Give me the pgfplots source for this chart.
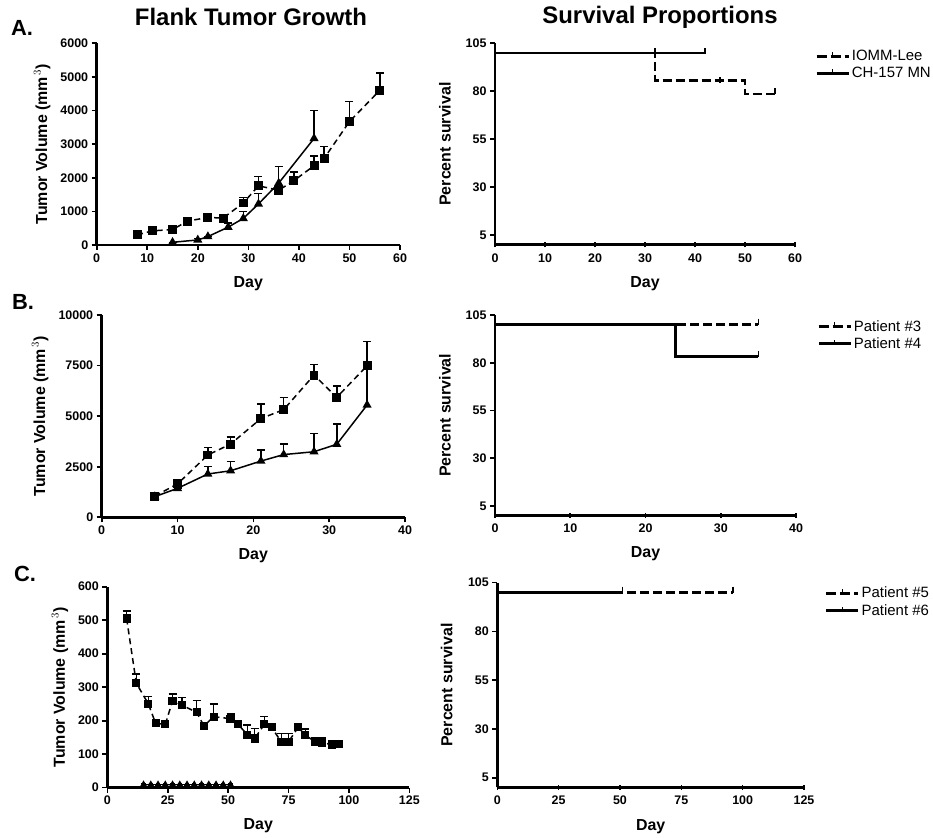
\documentclass[border=0pt]{standalone}
\usepackage{fontspec}
\setmainfont{Liberation Sans}
\usepackage{pgfplots}
\pgfplotsset{compat=1.18}
\usepackage{pgfplotstable}

% ---------- tumour growth data (day, mean volume, upper error) ----------
\pgfplotstableread{
day vol err
8  300  50
11 420  40
15 460  50
18 710  50
22 820  70
25 800  40
29 1250 170
32 1760 270
36 1630 100
39 1910 260
43 2360 290
45 2580 350
50 3670 600
56 4600 510
}\iommlee
\pgfplotstableread{
day vol err
15 80   0
20 150  50
22 250  0
26 530  120
29 790  200
32 1220 310
36 1840 490
43 3170 830
}\chmn
\pgfplotstableread{
day vol err
7  1050 100
10 1650 150
14 3080 360
17 3620 360
21 4880 720
24 5320 590
28 7030 530
31 5930 560
35 7490 1190
}\patthree
\pgfplotstableread{
day vol err
7  1020 0
10 1430 0
14 2140 360
17 2300 450
21 2780 540
24 3100 520
28 3240 910
31 3610 990
35 5550 1900
}\patfour
\pgfplotstableread{
day vol err
8  505 22
12 312 27
17 250 22
20 192 0
24 189 0
27 259 20
31 246 23
37 225 35
40 184 0
44 212 38
51 206 14
54 190 10
58 158 29
61 147 29
65 189 23
68 180 0
72 137 25
75 137 25
79 180 0
82 157 18
86 137 13
89 135 15
93 128 12
96 130 10
}\patfive
\pgfplotstableread{
day vol err
15 10 3
18 10 3
21 10 3
24 10 3
27 10 3
30 10 3
33 10 3
36 10 3
39 10 3
42 10 3
45 10 3
48 10 3
51 10 3
}\patsix

% ---------- survival steps ----------
\pgfplotstableread{
day surv
0  100
32 100
32 85.7
50 85.7
50 78.6
56 78.6
}\survA
\pgfplotstableread{
day surv
0  100
42 100
}\survAb
\pgfplotstableread{
day surv
0  100
35 100
}\survB
\pgfplotstableread{
day surv
0  100
24 100
24 83.3
35 83.3
}\survBb
\pgfplotstableread{
day surv
0  100
96 100
}\survC
\pgfplotstableread{
day surv
0  100
51 100
}\survCb

\newcommand\tickfont{\bfseries\fontsize{12.5}{13}\selectfont}
\newcommand\labfont{\bfseries\fontsize{16}{17}\selectfont}

\pgfplotsset{
  base/.style={
    scale only axis,
    axis lines=left,
    axis line style={-, line width=2.8bp, black},
    tick style={black, line width=1.6bp},
    major tick length=5bp,
    tick align=outside,
    clip=false,
    scaled ticks=false,
    /pgf/number format/assume math mode=true,
    /pgf/number format/1000 sep={},
    ticklabel style={font=\tickfont},
    xlabel={Day},
    xlabel style={font=\labfont, at={(axis description cs:0.5,-0.19)}, anchor=center},
    ylabel style={font=\labfont, anchor=center},
  },
  growth/.style={base,
    xmin=0, ymin=0,
    error bars/error bar style={line width=1.5bp, solid},
    error bars/error mark=|,
    error bars/error mark options={black, line width=1.5bp, mark size=4bp, solid},
    ylabel={Tumor Volume (mm$^{\,3}$)},
  },
  dashline/.style={black, line width=1.5bp, dash pattern=on 6bp off 4bp,
    mark=square*, mark size=3.7bp, mark options={solid},
    error bars/y dir=plus, error bars/y explicit},
  solidline/.style={black, line width=1.5bp,
    mark=triangle*, mark size=3.8bp, mark options={solid},
    error bars/y dir=plus, error bars/y explicit},
  surv/.style={base,
    xmin=0, ymin=0, ymax=105,
    ytick={5,30,55,80,105},
    xtick style={yshift=2.5bp},
    ylabel={Percent survival},
    legend style={draw=none, fill=none, font=\fontsize{15}{16}\selectfont,
      anchor=north west, row sep=1bp, inner sep=0pt,
      cells={anchor=west}},
  },
  survdash/.style={black, line width=2.6bp, dash pattern=on 9bp off 4bp,
    legend image code/.code={
      \draw[black, line width=2.6bp, dash pattern=on 10bp off 4bp] (0bp,0bp) -- (32bp,0bp);
      \draw[black, line width=1.5bp, solid] (16bp,0bp) -- (16bp,4bp);}},
  survsolid/.style={black, line width=2.6bp,
    legend image code/.code={
      \draw[black, line width=2.6bp] (0bp,0bp) -- (32bp,0bp);
      \draw[black, line width=1.5bp] (16bp,0bp) -- (16bp,4bp);}},
  censor/.style={black, only marks, mark=|, mark size=3bp,
    mark options={line width=1.5bp, solid}, forget plot},
}

\begin{document}
\begin{tikzpicture}[x=1bp,y=1bp]
\useasboundingbox (0,0) rectangle (933,838);

% titles and panel letters
\node[font=\bfseries\fontsize{24}{26}\selectfont] at (251,821) {Flank Tumor Growth};
\node[font=\bfseries\fontsize{24}{26}\selectfont] at (660,821) {Survival Proportions};
\node[font=\bfseries\fontsize{22}{24}\selectfont] at (22,810) {A.};
\node[font=\bfseries\fontsize{22}{24}\selectfont] at (23,536) {B.};
\node[font=\bfseries\fontsize{22}{24}\selectfont] at (25,264) {C.};

% ---------- A ----------
\begin{axis}[growth, at={(96.7bp,593bp)}, anchor=south west,
  width=303.3bp, height=201.7bp, xmax=60, ymax=6000,
  xtick={0,10,...,60}, ytick={0,1000,...,6000},
  ylabel style={at={(axis description cs:-0.18,0.5)}}]
\addplot[dashline] table[x=day, y=vol, y error=err] {\iommlee};
\addplot[solidline] table[x=day, y=vol, y error=err] {\chmn};
\end{axis}

\begin{axis}[surv, at={(495bp,593.1bp)}, anchor=south west,
  width=300bp, height=201.6bp, xmax=60, xtick={0,10,...,60},
  ylabel style={at={(axis description cs:-0.167,0.5)}},
  legend style={at={(axis description cs:1.067,0.975)}}]
\addplot[survdash] table[x=day, y=surv] {\survA};
\addlegendentry{IOMM-Lee}
\addplot[survsolid] table[x=day, y=surv] {\survAb};
\addlegendentry{CH-157 MN}
\addplot[censor] coordinates {(32,101) (45,85.7) (56,80)};
\addplot[censor] coordinates {(42,101)};
\end{axis}

% ---------- B ----------
\begin{axis}[growth, at={(101.7bp,320.7bp)}, anchor=south west,
  width=303.3bp, height=202.3bp, xmax=40, ymax=10000,
  xtick={0,10,...,40}, ytick={0,2500,5000,7500,10000},
  ylabel style={at={(axis description cs:-0.203,0.5)}}]
\addplot[dashline] table[x=day, y=vol, y error=err] {\patthree};
\addplot[solidline] table[x=day, y=vol, y error=err] {\patfour};
\end{axis}

\begin{axis}[surv, at={(495bp,322.4bp)}, anchor=south west,
  width=301bp, height=200.6bp, xmax=40, xtick={0,10,...,40},
  ylabel style={at={(axis description cs:-0.166,0.5)}},
  legend style={at={(axis description cs:1.07,0.985)}}]
\addplot[survdash] table[x=day, y=surv] {\survB};
\addlegendentry{Patient \#3}
\addplot[survsolid] table[x=day, y=surv] {\survBb};
\addlegendentry{Patient \#4}
\addplot[censor] coordinates {(35,101.5)};
\addplot[censor] coordinates {(35,84.5)};
\end{axis}

% ---------- C ----------
\begin{axis}[growth, at={(107.3bp,50.3bp)}, anchor=south west,
  width=302bp, height=201bp, xmax=125, ymax=600,
  xtick={0,25,...,125}, ytick={0,100,...,600},
  ylabel style={at={(axis description cs:-0.157,0.5)}}]
\addplot[dashline, mark size=3.3bp] table[x=day, y=vol, y error=err] {\patfive};
\addplot[solidline, mark size=2.5bp,
  error bars/error mark options={black, line width=1bp, mark size=2.2bp, solid}]
  table[x=day, y=vol, y error=err] {\patsix};
\end{axis}

\begin{axis}[surv, at={(497.3bp,50.5bp)}, anchor=south west,
  width=306.7bp, height=204.8bp, xmax=125, xtick={0,25,...,125},
  ylabel style={at={(axis description cs:-0.165,0.5)}},
  legend style={at={(axis description cs:1.068,0.989)}}]
\addplot[survdash] table[x=day, y=surv] {\survC};
\addlegendentry{Patient \#5}
\addplot[survsolid] table[x=day, y=surv] {\survCb};
\addlegendentry{Patient \#6}
\addplot[censor] coordinates {(96,101.5)};
\addplot[censor] coordinates {(51,101.5)};
\end{axis}
\end{tikzpicture}
\end{document}
